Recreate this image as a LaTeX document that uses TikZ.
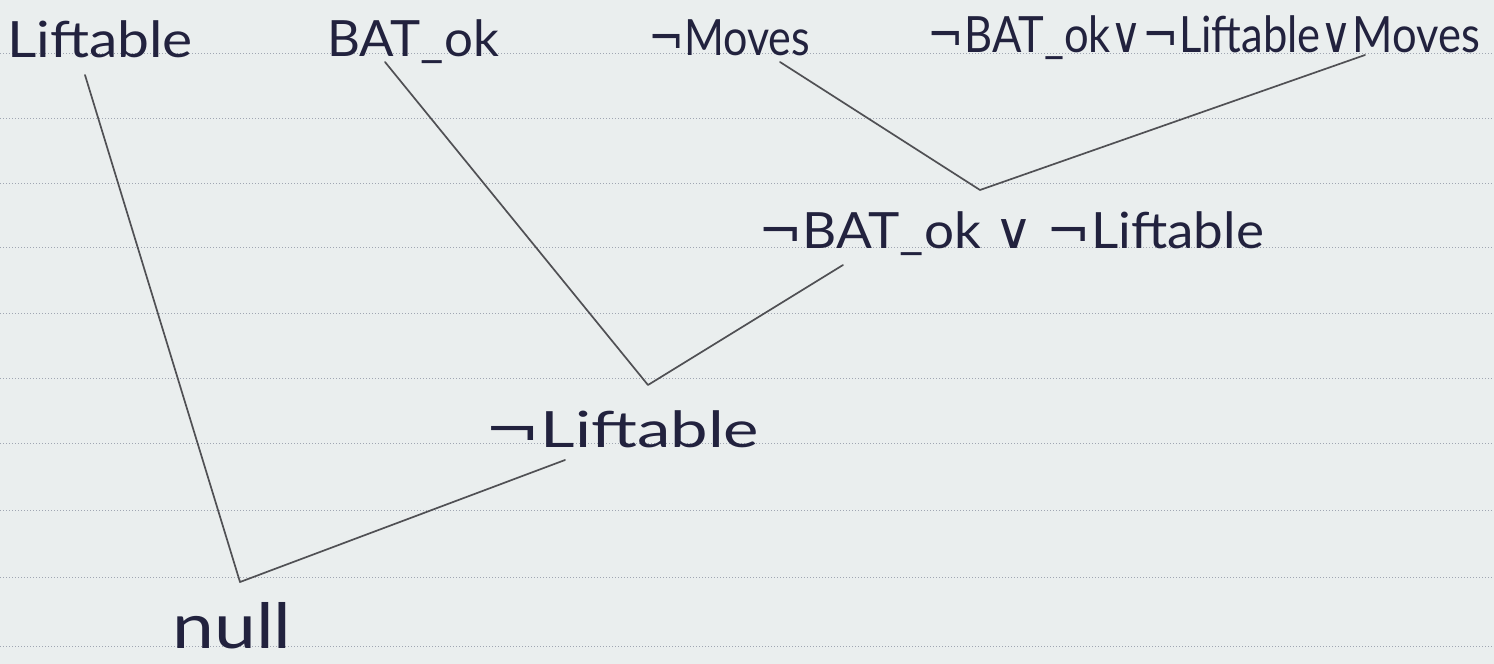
\documentclass[tikz,border=0pt]{standalone}
\usepackage{fontspec}
\setmainfont{Lato}
\newfontfamily\symfont{DejaVu Sans}
\definecolor{paper}{HTML}{EAEEEE}
\definecolor{rule}{HTML}{A0A6B2}
\definecolor{ink}{HTML}{22223E}
\definecolor{pencil}{HTML}{505054}
\newcommand{\nt}{{\symfont ¬}}
\newcommand{\orv}{{\symfont ∨}}
\tikzset{
  lbl/.style={anchor=base, text=ink, font=\fontsize{50}{52}\selectfont, inner sep=0pt},
  edge/.style={draw=pencil, line width=1.7pt, line cap=round, line join=round},
  ruleline/.style={draw=rule, line width=1pt, dotted}
}
\begin{document}
\begin{tikzpicture}[x=1pt,y=-1pt]
\fill[paper] (0,0) rectangle (1494,664);
\useasboundingbox (0,0) rectangle (1494,664);
\foreach \yy in {53,118,183,247,313,378,443,510,577,646}
  \draw[ruleline] (0,\yy) -- (1494,\yy);
% clauses
\node[lbl] (lift) at (100,57) {\scalebox{1.14}[1]{Liftable}};
\node[lbl] (bat) at (413,56) {\scalebox{1.02}[1]{BAT\_ok}};
\node[lbl] (nmov) at (729,55) {\scalebox{0.86}[1]{\nt Moves}};
\node[lbl] (big) at (1204,52) {\scalebox{0.87}[1]{\nt BAT\_ok\orv\nt Liftable\orv Moves}};
\node[lbl] (mid) at (1011,248) {\scalebox{1.06}[1]{\nt BAT\_ok \orv\ \nt Liftable}};
\node[lbl] (nlift) at (622,447) {\scalebox{1.34}[1]{\nt Liftable}};
\node[lbl] (null) at (232,648) {\scalebox{1.5}[1.25]{null}};
% connector ends
\coordinate (a1) at (85,75);
\coordinate (b1) at (385,62);
\coordinate (m1) at (780,62);
\coordinate (g1) at (1365,55);
\coordinate (d1) at (843,265);
\coordinate (n1) at (565,460);
\coordinate (v3) at (980,190);
\coordinate (v2) at (648,385);
\coordinate (v1) at (240,582);
\draw[edge] (m1) -- (v3) -- (g1);
\draw[edge] (b1) -- (v2) -- (d1);
\draw[edge] (a1) -- (v1) -- (n1);
\end{tikzpicture}
\end{document}
